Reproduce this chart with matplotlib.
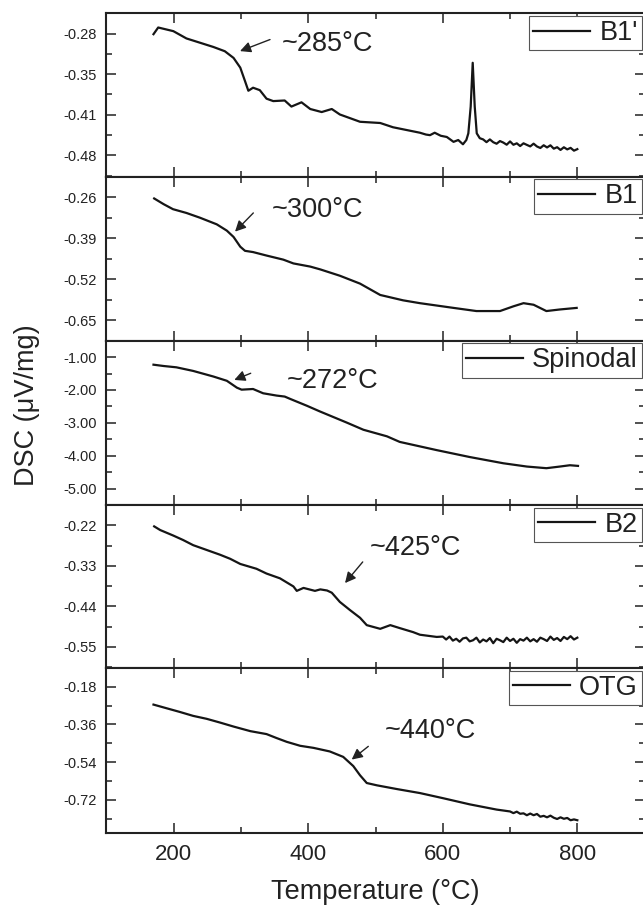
import numpy as np
import matplotlib.pyplot as plt

plt.rcParams['font.family'] = ['Liberation Sans', 'DejaVu Sans']

# ---- data (temperature in C, DSC in uV/mg) ----
t_b1p = [170, 177, 199.5, 219, 239, 259, 276, 289, 299, 306, 311, 318, 328, 338, 348,
         365, 375, 390, 403, 420, 435, 447, 477, 507, 526, 566, 575, 581, 588, 597, 606,
         616, 623, 630, 635, 638, 641.5, 644.5, 647.5, 650.5, 655,
         660, 665, 670, 675, 680, 685, 690, 695, 700, 705, 710, 715, 720, 725, 730,
         735, 740, 745, 750, 755, 760, 765, 770, 775, 780, 785, 790, 795, 800]
dsc_b1p = [-0.281, -0.270, -0.276, -0.288, -0.295, -0.302, -0.309, -0.320, -0.336, -0.358,
           -0.374, -0.369, -0.373, -0.387, -0.391, -0.390, -0.400, -0.393, -0.404, -0.409,
           -0.404, -0.413, -0.425, -0.427, -0.434, -0.443, -0.446, -0.447, -0.443, -0.448,
           -0.450, -0.458, -0.455, -0.462, -0.455, -0.444, -0.400, -0.328, -0.400, -0.444,
           -0.452,
           -0.454, -0.4585, -0.454, -0.4586, -0.4611, -0.4567, -0.4592, -0.4627, -0.4573,
           -0.4628, -0.4604, -0.4649, -0.4604, -0.463, -0.4655, -0.461, -0.4656, -0.4681,
           -0.4636, -0.4672, -0.4637, -0.4692, -0.4668, -0.4713, -0.4669, -0.4704, -0.4679,
           -0.4725, -0.470]

t_b1 = [171, 185, 199, 219, 239, 264, 279, 289, 299, 306, 318, 338, 363, 378, 403, 418,
        447, 477, 507, 541, 566, 616, 650, 685, 705, 720, 735, 754, 774, 799]
dsc_b1 = [-0.264, -0.282, -0.298, -0.310, -0.325, -0.346, -0.366, -0.386, -0.417, -0.430,
          -0.434, -0.445, -0.458, -0.470, -0.480, -0.489, -0.509, -0.534, -0.570, -0.587,
          -0.596, -0.611, -0.621, -0.621, -0.606, -0.596, -0.601, -0.621, -0.616, -0.611]

t_spin = [170, 185, 204, 229, 259, 279, 294, 301, 318, 333, 353, 365, 373, 398, 417, 437,
          457, 482, 517, 536, 591, 640, 690, 725, 754, 774, 789, 801]
dsc_spin = [-1.23, -1.27, -1.31, -1.42, -1.59, -1.72, -1.93, -1.99, -1.97, -2.10, -2.17,
            -2.20, -2.27, -2.48, -2.65, -2.82, -2.99, -3.21, -3.41, -3.58, -3.83, -4.04,
            -4.23, -4.33, -4.38, -4.33, -4.29, -4.31]

t_b2 = [171, 180, 199.5, 214, 229, 249, 269, 284, 299, 323, 338, 358, 378, 383, 393, 410,
        418, 428, 435, 447, 462, 477, 487, 507, 522, 536, 556, 566, 591,
        600, 605, 610, 615, 620, 625, 630, 635, 640, 645, 650, 655, 660, 665, 670, 675,
        680, 685, 690, 695, 700, 705, 710, 715, 720, 725, 730, 735, 740, 745, 750, 755,
        760, 765, 770, 775, 780, 785, 790, 795, 800]
dsc_b2 = [-0.223, -0.233, -0.248, -0.260, -0.274, -0.287, -0.300, -0.311, -0.325, -0.338,
          -0.351, -0.364, -0.386, -0.398, -0.390, -0.398, -0.394, -0.397, -0.403, -0.428,
          -0.450, -0.471, -0.491, -0.501, -0.491, -0.499, -0.510, -0.517, -0.523,
          -0.522, -0.530, -0.522, -0.533, -0.528, -0.536, -0.527, -0.525, -0.535, -0.532,
          -0.525, -0.538, -0.530, -0.535, -0.526, -0.540, -0.528, -0.532, -0.537, -0.525,
          -0.534, -0.528, -0.539, -0.529, -0.533, -0.525, -0.535, -0.529, -0.536, -0.525,
          -0.529, -0.534, -0.522, -0.531, -0.526, -0.534, -0.523, -0.529, -0.521, -0.530,
          -0.525]

t_otg = [170, 190, 209, 229, 249, 269, 289, 314, 338, 353, 368, 388, 408, 432, 452, 467,
         477, 487, 502, 532, 566, 601, 640, 680,
         700, 705, 710, 715, 720, 725, 730, 735, 740, 745, 750, 755, 760, 765, 770, 775,
         780, 785, 790, 795, 800]
dsc_otg = [-0.265, -0.283, -0.300, -0.319, -0.333, -0.351, -0.370, -0.392, -0.406, -0.425,
           -0.443, -0.462, -0.472, -0.489, -0.515, -0.559, -0.603, -0.640, -0.651, -0.669,
           -0.688, -0.713, -0.742, -0.767,
           -0.776, -0.784, -0.777, -0.787, -0.785, -0.794, -0.786, -0.794, -0.788, -0.801,
           -0.797, -0.804, -0.796, -0.806, -0.812, -0.804, -0.811, -0.807, -0.818, -0.814,
           -0.818]

names = ["B1'", "B1", "Spinodal", "B2", "OTG"]
temps = [t_b1p, t_b1, t_spin, t_b2, t_otg]
dscs = [dsc_b1p, dsc_b1, dsc_spin, dsc_b2, dsc_otg]

ytick_vals = [[-0.28, -0.3467, -0.4133, -0.48],
              [-0.26, -0.39, -0.52, -0.65],
              [-1.0, -2.0, -3.0, -4.0, -5.0],
              [-0.22, -0.33, -0.44, -0.55],
              [-0.18, -0.36, -0.54, -0.72]]
ytick_labels = [['-0.28', '-0.35', '-0.41', '-0.48'],
                ['-0.26', '-0.39', '-0.52', '-0.65'],
                ['-1.00', '-2.00', '-3.00', '-4.00', '-5.00'],
                ['-0.22', '-0.33', '-0.44', '-0.55'],
                ['-0.18', '-0.36', '-0.54', '-0.72']]
ylims = [(-0.5153, -0.2486), (-0.7002, -0.1988), (-5.094, -0.934),
         (-0.6073, -0.1884), (-0.879, -0.1559)]

# annotation: arrow tip, arrow tail, text anchor (left, centre)
peak_text = ['~285°C', '~300°C', '~272°C', '~425°C', '~440°C']
arrow_tip = [(298.6, -0.3088), (291.2, -0.3692), (290.1, -1.694), (454.7, -0.3768), (464.6, -0.5278)]
arrow_tail = [(343.2, -0.2898), (318.4, -0.3099), (314.5, -1.491), (481.0, -0.3195), (489.3, -0.4647)]
text_pos = [(361.1, -0.2974), (345.7, -0.2998), (368.0, -1.719), (491.8, -0.2827), (514.1, -0.392)]

W, H = 643, 909
fig = plt.figure(figsize=(W / 100, H / 100), dpi=100)
tops = [13.3, 176.7, 340.7, 505, 668]
bots = [176.7, 340.7, 505, 668, 833]
left_px, right_px = 106.4, 644.6

for i in range(5):
    ax = fig.add_axes([left_px / W, 1 - bots[i] / H, (right_px - left_px) / W, (bots[i] - tops[i]) / H])
    ax.plot(temps[i], dscs[i], color='#151515', lw=1.6, label=names[i])
    ax.set_xlim(100, 900)
    ax.set_ylim(*ylims[i])
    ax.set_xticks([200, 400, 600, 800])
    ax.set_xticks([300, 500, 700], minor=True)
    yv = ytick_vals[i]
    step = yv[0] - yv[1]
    ax.set_yticks(yv)
    ax.set_yticklabels(ytick_labels[i])
    ax.set_yticks([v - step / 2 for v in yv] + [yv[0] + step / 2], minor=True)
    ax.tick_params(which='both', direction='in', top=True, right=True, width=1.1, colors='#222222')
    ax.tick_params(which='major', length=7)
    ax.tick_params(which='minor', length=4)
    ax.tick_params(axis='y', labelsize=10.5, pad=7)
    ax.tick_params(axis='x', labelsize=16, pad=8)
    for s in ax.spines.values():
        s.set_linewidth(1.5)
        s.set_color('#222222')
    if i < 4:
        ax.tick_params(axis='x', labelbottom=False)
    else:
        ax.set_xlabel('Temperature (°C)', fontsize=19.5, labelpad=10, color='#222222')
    leg = ax.legend(loc='upper right', bbox_to_anchor=(1.0, 1.0), fancybox=False,
                    borderpad=0.15, handlelength=2.1, handletextpad=0.35,
                    borderaxespad=0.1, fontsize=19.5, framealpha=1)
    leg.get_frame().set_edgecolor('#555555')
    leg.get_frame().set_linewidth(0.8)
    for txt in leg.get_texts():
        txt.set_color('#222222')
    ax.annotate('', xy=arrow_tip[i], xytext=arrow_tail[i],
                arrowprops=dict(arrowstyle='-|>', color='#222222', lw=1.0,
                                mutation_scale=16, shrinkA=0, shrinkB=0))
    ax.text(text_pos[i][0], text_pos[i][1], peak_text[i], fontsize=19.5,
            va='center', ha='left', color='#222222')

fig.text(27 / W, 1 - 405 / H, 'DSC (μV/mg)', rotation=90, fontsize=19.5,
         va='center', ha='center', color='#222222')

fig.savefig('out.png', dpi=100)
